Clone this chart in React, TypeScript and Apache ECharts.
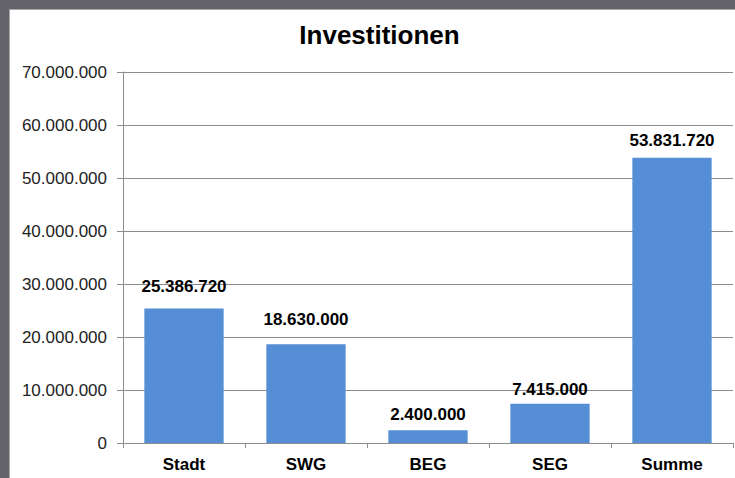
import React, { useEffect, useRef } from "react";
import * as echarts from "echarts";

const categories = ["Stadt", "SWG", "BEG", "SEG", "Summe"];
const values = [25386720, 18630000, 2400000, 7415000, 53831720];
const yTicks = [0, 10000000, 20000000, 30000000, 40000000, 50000000, 60000000, 70000000];
const title = "Investitionen";
// label distance above each bar (px), as placed in the reference
const labelGap = [13.5, 16, 7, 6, 9];

const fmt = (v: number) => String(Math.round(v)).replace(/\B(?=(\d{3})+(?!\d))/g, ".");
const FONT = "Liberation Sans, Arial, sans-serif";

export default function App() {
  const ref = useRef<HTMLDivElement>(null);
  useEffect(() => {
    if (!ref.current) return;
    const chart = echarts.init(ref.current, null, { renderer: "svg" });
    chart.setOption({
      animation: false,
      backgroundColor: "#ffffff",
      textStyle: { fontFamily: FONT },
      graphic: [
        { type: "rect", left: 0, top: 0, shape: { width: 735, height: 9 }, style: { fill: "#646369" }, z: 100 },
        { type: "rect", left: 0, top: 9, shape: { width: 735, height: 1 }, style: { fill: "#a9a8ac" }, z: 100 },
        { type: "rect", left: 0, top: 0, shape: { width: 9, height: 478 }, style: { fill: "#646369" }, z: 100 },
        { type: "rect", left: 9, top: 9, shape: { width: 1, height: 469 }, style: { fill: "#a9a8ac" }, z: 100 },
        {
          type: "text",
          x: 379.5,
          y: 22,
          style: {
            text: title,
            fontSize: 26,
            fontWeight: "bold",
            fontFamily: FONT,
            fill: "#000",
            textAlign: "center",
            textVerticalAlign: "top",
          },
        },
      ],
      grid: { left: 123, right: 2, top: 72, bottom: 35, containLabel: false },
      xAxis: {
        type: "category",
        data: categories,
        axisLine: { lineStyle: { color: "#8c8c8c", width: 1 } },
        axisTick: { show: true, length: 5, lineStyle: { color: "#8c8c8c" } },
        axisLabel: {
          color: "#000",
          fontSize: 17,
          fontWeight: "bold",
          margin: 13,
          fontFamily: FONT,
        },
      },
      yAxis: {
        type: "value",
        min: 0,
        max: yTicks[yTicks.length - 1],
        interval: 10000000,
        axisLine: { show: true, lineStyle: { color: "#8c8c8c", width: 1 } },
        axisTick: { show: true, length: 6, lineStyle: { color: "#8c8c8c" } },
        splitLine: { show: true, lineStyle: { color: "#8c8c8c", width: 1 } },
        axisLabel: {
          color: "#222",
          fontSize: 17,
          margin: 16,
          formatter: (v: number) => fmt(v),
          fontFamily: FONT,
        },
      },
      series: [
        {
          type: "bar",
          data: values.map((v, i) => ({ value: v, label: { distance: labelGap[i] } })),
          barWidth: "65%",
          itemStyle: { color: "#558ed5" },
          label: {
            show: true,
            position: "top",
            color: "#000",
            fontSize: 17,
            fontWeight: "bold",
            fontFamily: FONT,
            formatter: (p: any) => fmt(p.value),
          },
        },
      ],
    });
    return () => chart.dispose();
  }, []);
  return (
    <div
      ref={ref}
      style={{ position: "fixed", left: 0, top: 0, width: 735, height: 478 }}
    />
  );
}
